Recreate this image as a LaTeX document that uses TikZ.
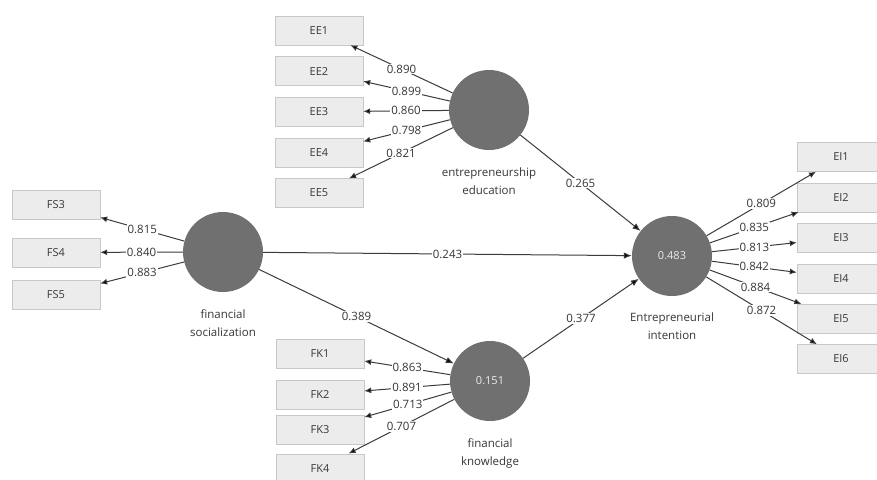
\documentclass[tikz,border=0pt]{standalone}
\usepackage{fontspec}
\setmainfont{Open Sans}
\usetikzlibrary{arrows.meta, positioning}
\definecolor{boxfill}{RGB}{236, 236, 236}
\definecolor{boxline}{RGB}{200, 200, 200}
\definecolor{latentgray}{RGB}{112, 112, 112}
\definecolor{textgray}{RGB}{55, 55, 55}
\definecolor{linegray}{RGB}{60, 60, 60}
\tikzset{
  >=Latex,
  indbox/.style={draw=boxline, fill=boxfill, minimum width=88pt, minimum height=29pt, inner sep=0pt, text=textgray, font=\fontsize{11}{13}\selectfont},
  latent/.style={circle, fill=latentgray, minimum size=80pt, inner sep=0pt, text=white!85!gray, font=\fontsize{11}{13}\selectfont},
  latentname/.style={align=center, text=textgray, font=\fontsize{11.5}{18}\selectfont},
  loadarrow/.style={-{Latex[length=7pt, width=6pt, fill=black]}, line width=1pt, linegray},
  patharrow/.style={-{Latex[length=8pt, width=6.5pt, fill=black]}, line width=1pt, linegray},
  coef/.style={midway, fill=white, inner sep=1pt, text=textgray, font=\fontsize{11.5}{13}\selectfont}
}
\begin{document}
\begin{tikzpicture}[x=1pt, y=-1pt]
    \useasboundingbox[fill=white] (0,0) rectangle (877,479);

    % latent variables
    \node (ee) [latent] at (489,110) {};
    \node (fs) [latent] at (223,252) {};
    \node (ei) [latent] at (672,256) {0.483};
    \node (fk) [latent] at (490,381) {0.151};

    \node (eename) [latentname, below=14pt of ee] {entrepreneurship\\education};
    \node (fsname) [latentname, below=14pt of fs] {financial\\socialization};
    \node (einame) [latentname, below=13pt of ei] {Entrepreneurial\\intention};
    \node (fkname) [latentname, below=14pt of fk] {financial\\knowledge};

    % indicators
    \node (ee1) [indbox] at (319,30.5) {EE1};
    \node (ee2) [indbox, below=11.25pt of ee1] {EE2};
    \node (ee3) [indbox, below=11.25pt of ee2] {EE3};
    \node (ee4) [indbox, below=11.25pt of ee3] {EE4};
    \node (ee5) [indbox, below=11.25pt of ee4] {EE5};

    \node (fs3) [indbox] at (56,205) {FS3};
    \node (fs4) [indbox, below=18pt of fs3] {FS4};
    \node (fs5) [indbox, below=13pt of fs4] {FS5};

    \node (fk1) [indbox] at (320,354) {FK1};
    \node (fk2) [indbox, below=11pt of fk1] {FK2};
    \node (fk3) [indbox, below=6pt of fk2] {FK3};
    \node (fk4) [indbox, below=9pt of fk3] {FK4};

    \node (ei1) [indbox] at (841,157) {EI1};
    \node (ei2) [indbox, below=11pt of ei1] {EI2};
    \node (ei3) [indbox, below=11pt of ei2] {EI3};
    \node (ei4) [indbox, below=11pt of ei3] {EI4};
    \node (ei5) [indbox, below=11pt of ei4] {EI5};
    \node (ei6) [indbox, below=11pt of ei5] {EI6};

    % outer loadings
    \draw[loadarrow] (ee) -- (ee1) node[coef] {0.890};
    \draw[loadarrow] (ee) -- (ee2) node[coef] {0.899};
    \draw[loadarrow] (ee) -- (ee3) node[coef] {0.860};
    \draw[loadarrow] (ee) -- (ee4) node[coef] {0.798};
    \draw[loadarrow] (ee) -- (ee5) node[coef] {0.821};

    \draw[loadarrow] (fs) -- (fs3) node[coef] {0.815};
    \draw[loadarrow] (fs) -- (fs4) node[coef] {0.840};
    \draw[loadarrow] (fs) -- (fs5) node[coef] {0.883};

    \draw[loadarrow] (fk) -- (fk1) node[coef] {0.863};
    \draw[loadarrow] (fk) -- (fk2) node[coef] {0.891};
    \draw[loadarrow] (fk) -- (fk3) node[coef] {0.713};
    \draw[loadarrow] (fk) -- (fk4) node[coef] {0.707};

    \draw[loadarrow] (ei) -- (ei1) node[coef] {0.809};
    \draw[loadarrow] (ei) -- (ei2) node[coef] {0.835};
    \draw[loadarrow] (ei) -- (ei3) node[coef] {0.813};
    \draw[loadarrow] (ei) -- (ei4) node[coef] {0.842};
    \draw[loadarrow] (ei) -- (ei5) node[coef] {0.884};
    \draw[loadarrow] (ei) -- (ei6) node[coef] {0.872};

    % path coefficients
    \draw[patharrow] (ee) -- (ei) node[coef] {0.265};
    \draw[patharrow] (fs) -- (ei) node[coef] {0.243};
    \draw[patharrow] (fs) -- (fk) node[coef] {0.389};
    \draw[patharrow] (fk) -- (ei) node[coef] {0.377};
\end{tikzpicture}
\end{document}
